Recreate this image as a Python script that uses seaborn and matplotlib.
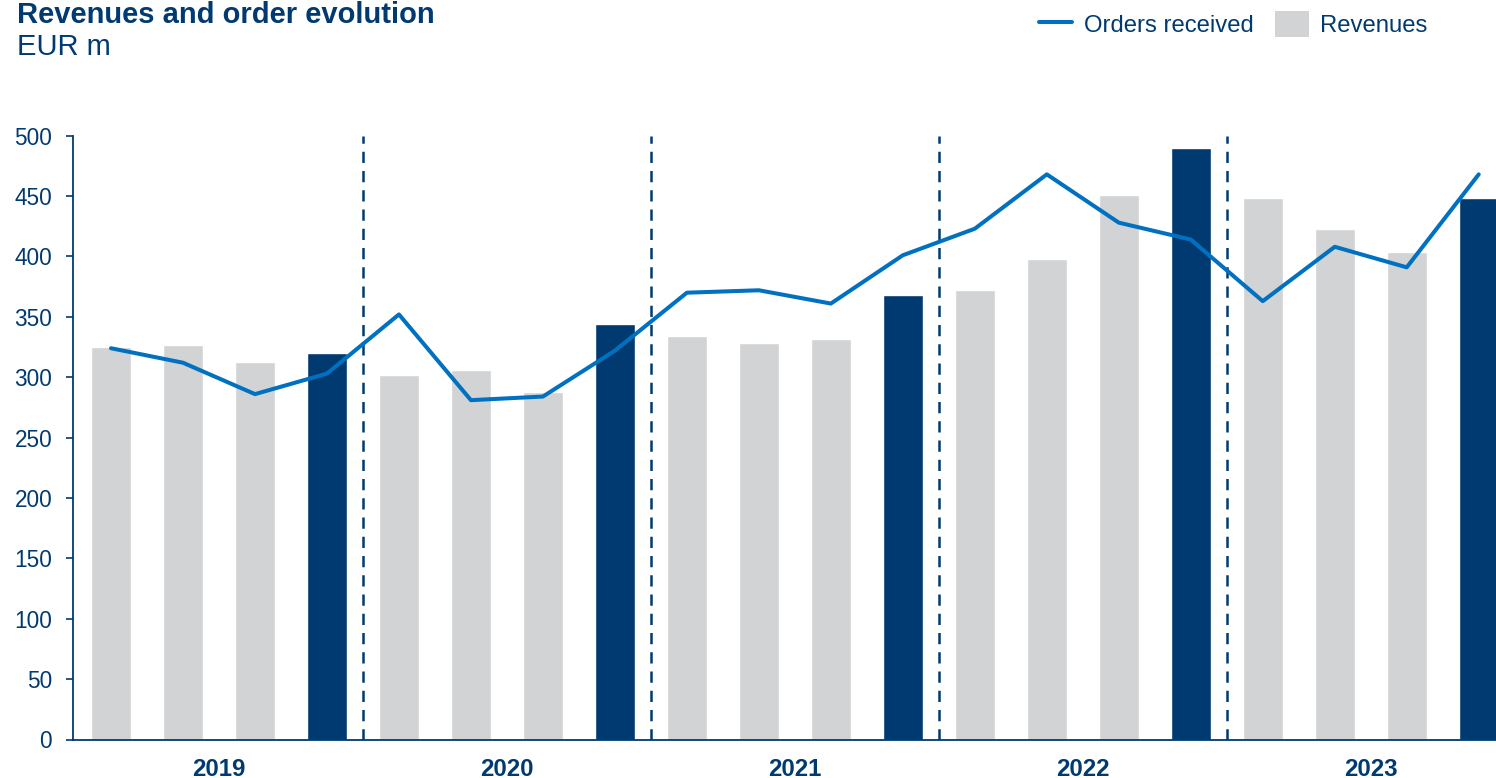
import matplotlib
matplotlib.use("Agg")
import matplotlib.pyplot as plt
import seaborn as sns
import pandas as pd
import numpy as np
from matplotlib.lines import Line2D
from matplotlib.patches import Patch

years = ["2019", "2020", "2021", "2022", "2023"]
quarters = ["Q1", "Q2", "Q3", "Q4"]
revenues = [325, 327, 313, 320,
            302, 306, 288, 344,
            334, 328, 332, 368,
            372, 398, 451, 490,
            448, 423, 404, 448]
orders = [324, 312, 286, 303,
          352, 281, 284, 322,
          370, 372, 361, 401,
          423, 468, 428, 414,
          363, 408, 391, 468]
y_ticks = [0, 50, 100, 150, 200, 250, 300, 350, 400, 450, 500]

NAVY = "#003A70"
GRAY = "#D1D3D5"
BLUE = "#0071C1"

sns.set_theme(style="white")
plt.rcParams["font.family"] = ["Liberation Sans", "DejaVu Sans"]

periods = [f"{y} {q}" for y in years for q in quarters]
df = pd.DataFrame({"period": periods, "revenues": revenues, "orders": orders,
                   "idx": np.arange(len(periods))})
colors = [NAVY if p.endswith("Q4") else GRAY for p in periods]

fig = plt.figure(figsize=(14.96, 7.78), dpi=100)
ax = fig.add_axes([73 / 1496, 1 - 739.5 / 778, 1 - 73 / 1496, (739.5 - 135.7) / 778])

sns.barplot(data=df, x="period", y="revenues", hue="period", palette=colors,
            order=periods, hue_order=periods, width=0.556, legend=False,
            saturation=1, ax=ax)
sns.lineplot(x=df["idx"], y=df["orders"], color=BLUE, lw=2.9, ax=ax)

for k in range(1, len(years)):
    ax.axvline(4 * k - 0.5, ymin=0, ymax=1, color=NAVY, lw=1.8, ls=(0, (4.5, 3.2)), zorder=0.5)

ax.set_xlim(-0.528, 19.24)
ax.set_ylim(0, 500)
ax.set_yticks(y_ticks)
ax.set_yticklabels([str(v) for v in y_ticks], fontsize=16.3, color=NAVY)
ax.set_xticks([4 * i + 1.5 for i in range(len(years))])
ax.set_xticklabels(years, fontsize=17.3, fontweight="bold", color=NAVY)
ax.tick_params(axis="x", length=0, pad=13)
ax.tick_params(axis="y", length=5, width=1.2, color=NAVY, pad=10, direction="out", left=True)
ax.set_xlabel("")
ax.set_ylabel("")
for s in ["top", "right"]:
    ax.spines[s].set_visible(False)
for s in ["left", "bottom"]:
    ax.spines[s].set_color(NAVY)
    ax.spines[s].set_linewidth(1.3)

fig.text(17 / 1496, 1 - 1 / 778, "Revenues and order evolution", fontsize=21, fontweight="bold",
         color=NAVY, va="top", ha="left")
fig.text(17 / 1496, 1 - 33 / 778, "EUR m", fontsize=21, color=NAVY, va="top", ha="left")

handles = [Line2D([0], [0], color=BLUE, lw=2.9), Patch(facecolor=GRAY, edgecolor="none")]
leg = fig.legend(handles, ["Orders received", "Revenues"], loc="upper right",
                 bbox_to_anchor=(1449 / 1496, 1.013), ncol=2, frameon=False,
                 fontsize=17.2, handlelength=1.42, handleheight=1.3, columnspacing=0.88,
                 handletextpad=0.48)
for t in leg.get_texts():
    t.set_color(NAVY)

fig.savefig("out.png", dpi=100)
